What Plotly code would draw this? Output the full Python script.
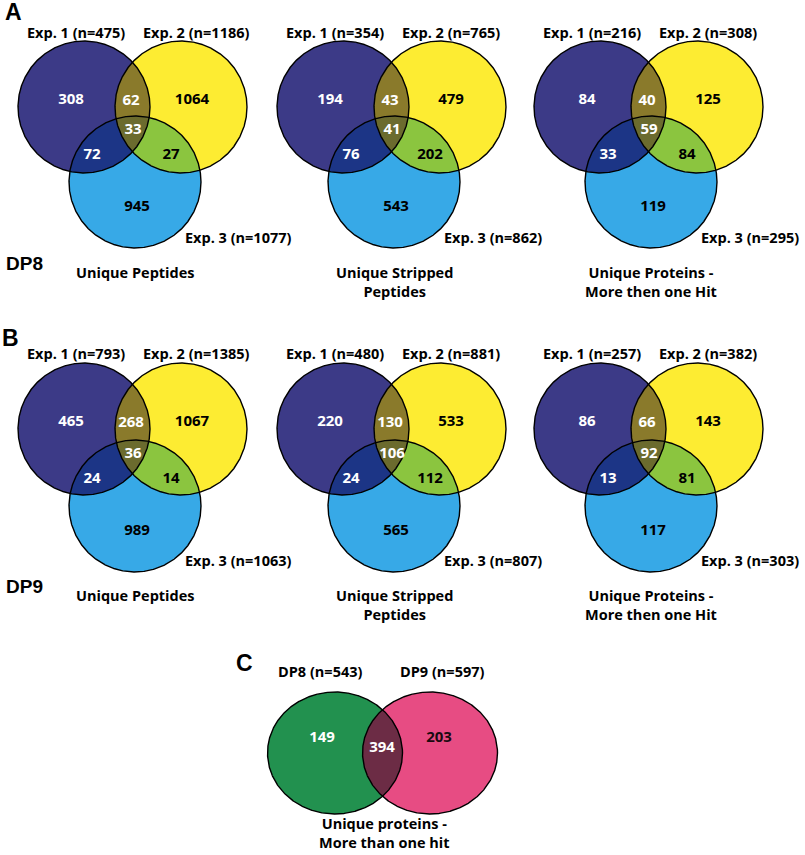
import numpy as np
import plotly.graph_objects as go

# ---------------- data ----------------
# region order: only1, only2, only3, 1&2, 1&3, 2&3, 1&2&3
set_names = ["Exp. 1", "Exp. 2", "Exp. 3"]

dp8_peptides = [308, 1064, 945, 62, 72, 27, 33]
dp8_peptides_n = [475, 1186, 1077]
dp8_stripped = [194, 479, 543, 43, 76, 202, 41]
dp8_stripped_n = [354, 765, 862]
dp8_proteins = [84, 125, 119, 40, 33, 84, 59]
dp8_proteins_n = [216, 308, 295]

dp9_peptides = [465, 1067, 989, 268, 24, 14, 36]
dp9_peptides_n = [793, 1385, 1063]
dp9_stripped = [220, 533, 565, 130, 24, 112, 106]
dp9_stripped_n = [480, 881, 807]
dp9_proteins = [86, 143, 117, 66, 13, 81, 92]
dp9_proteins_n = [257, 382, 303]

captions = ["Unique Peptides", "Unique Stripped<br>Peptides",
            "Unique Proteins -<br>More then one Hit"]
row_names = ["DP8", "DP9"]
panel_letters = ["A", "B", "C"]

# panel C: only DP8, only DP9, both
c_names = ["DP8", "DP9"]
c_counts = [149, 203, 394]
c_n = [543, 597]
c_caption = "Unique proteins -<br>More than one hit"

# ---------------- layout / style ----------------
W, H = 805, 855
FONT = "Open Sans"
panel_x = [84, 343, 600]          # centre x of first circle in each column
row_y = [107, 429]                # centre y of top circles in each row
blue_dy = [75, 77]
R = 66
label_y = [32, 353]
exp3_y = [237, 560]
cap_y = [272, 595]
dp_y = [263, 586]
letter_pos = [(3, 12), (0, 338), (234, 663)]
LBL = 14.5

col1, col2, col3 = "#3c3a87", "#fdec32", "#37a9e7"
col12, col13, col23, col123 = "#8a7a2b", "#1c3586", "#8bc53f", "#6b6b2e"
colG, colP, colGP = "#22914f", "#e74c83", "#6c2c45"
num_colors = ["white", "black", "black", "white", "white", "black", "white"]
num_offsets = [(-13, -7), (108, -7), (53, 100), (47, -6), (8, 48), (87, 48), (49, 23)]

fig = go.Figure()


def ellipse_pts(cx, cy, rx, ry, n=1440):
    t = np.linspace(0, 2 * np.pi, n, endpoint=False)
    return cx + rx * np.cos(t), cy + ry * np.sin(t)


def inside(x, y, e):
    cx, cy, rx, ry = e
    return ((x - cx) / rx) ** 2 + ((y - cy) / ry) ** 2 <= 1 + 1e-9


def intersect_poly(ells):
    xs, ys = [], []
    for i, e in enumerate(ells):
        x, y = ellipse_pts(*e)
        m = np.ones_like(x, dtype=bool)
        for j, f in enumerate(ells):
            if j != i:
                m &= inside(x, y, f)
        xs.append(x[m])
        ys.append(y[m])
    x = np.concatenate(xs)
    y = np.concatenate(ys)
    a = np.arctan2(y - y.mean(), x - x.mean())
    o = np.argsort(a)
    x, y = x[o], y[o]
    return np.append(x, x[0]), np.append(y, y[0])


def fill(ells, color):
    x, y = intersect_poly(ells)
    fig.add_trace(go.Scatter(x=x, y=y, mode="lines", fill="toself",
                             fillcolor=color, line=dict(width=0),
                             hoverinfo="skip", showlegend=False))


def outline(e):
    x, y = ellipse_pts(*e)
    x = np.append(x, x[0])
    y = np.append(y, y[0])
    fig.add_trace(go.Scatter(x=x, y=y, mode="lines",
                             line=dict(color="black", width=1.4),
                             hoverinfo="skip", showlegend=False))


annotations = []


def label(text, x, y, xanchor="center", size=LBL, family=FONT):
    annotations.append(dict(text=text, x=x, y=y, xref="x", yref="y",
                            xanchor=xanchor, yanchor="middle", showarrow=False,
                            font=dict(family=family, size=size, color="black",
                                      weight="bold")))


num_x, num_y, num_t, num_c = [], [], [], []

grid = [[(dp8_peptides, dp8_peptides_n), (dp8_stripped, dp8_stripped_n),
         (dp8_proteins, dp8_proteins_n)],
        [(dp9_peptides, dp9_peptides_n), (dp9_stripped, dp9_stripped_n),
         (dp9_proteins, dp9_proteins_n)]]

for r, row in enumerate(grid):
    for c, (counts, totals) in enumerate(row):
        px, py = panel_x[c], row_y[r]
        e1 = (px, py, R, R)
        e2 = (px + 97, py, R, R)
        e3 = (px + 51, py + blue_dy[r], R, R)
        fill([e1], col1)
        fill([e2], col2)
        fill([e3], col3)
        fill([e1, e2], col12)
        fill([e1, e3], col13)
        fill([e2, e3], col23)
        fill([e1, e2, e3], col123)
        for e in (e1, e2, e3):
            outline(e)
        for k, v in enumerate(counts):
            dx, dy = num_offsets[k]
            if k in (2, 4, 5, 6):
                dy += blue_dy[r] - 75
            num_x.append(px + dx)
            num_y.append(py + dy)
            num_t.append(str(v))
            num_c.append(num_colors[k])
        label(f"{set_names[0]} (n={totals[0]})", px + 43, label_y[r], "right")
        label(f"{set_names[1]} (n={totals[1]})", px + 57, label_y[r], "left")
        label(f"{set_names[2]} (n={totals[2]})", px + 99, exp3_y[r], "left")
        nlines = captions[c].count("<br>") + 1
        label(captions[c], px + 51, cap_y[r] + (nlines - 1) * 9.5)
    label(row_names[r], 4, dp_y[r], "left", 19, "Liberation Sans")

# panel C
eG = (335, 753, 67.5, 61)
eP = (430, 753, 67.5, 61)
fill([eG], colG)
fill([eP], colP)
fill([eG, eP], colGP)
outline(eG)
outline(eP)
c_pos = [(322, 738), (439, 738), (382, 748)]
c_cols = ["white", "#1a0a10", "white"]
for (x, y), v, col in zip(c_pos, c_counts, c_cols):
    num_x.append(x)
    num_y.append(y)
    num_t.append(str(v))
    num_c.append(col)
label(f"{c_names[0]} (n={c_n[0]})", 320, 671)
label(f"{c_names[1]} (n={c_n[1]})", 442, 671)
label(c_caption, 384, 833)

for (x, y), t in zip(letter_pos, panel_letters):
    label(t, x, y, "left", 23, "Liberation Sans")

fig.add_trace(go.Scatter(x=num_x, y=num_y, text=num_t, mode="text",
                         textposition="middle center",
                         textfont=dict(family=FONT, size=15, color=num_c,
                                       weight="bold"),
                         hoverinfo="skip", showlegend=False))

fig.update_layout(
    width=W, height=H, margin=dict(l=0, r=0, t=0, b=0),
    paper_bgcolor="white", plot_bgcolor="white",
    xaxis=dict(range=[0, W], visible=False, fixedrange=True),
    yaxis=dict(range=[H, 0], visible=False, fixedrange=True),
    annotations=annotations, showlegend=False,
)

fig.write_html("out.html", post_script="document.body.style.margin='0';",
               config={"displayModeBar": False})
